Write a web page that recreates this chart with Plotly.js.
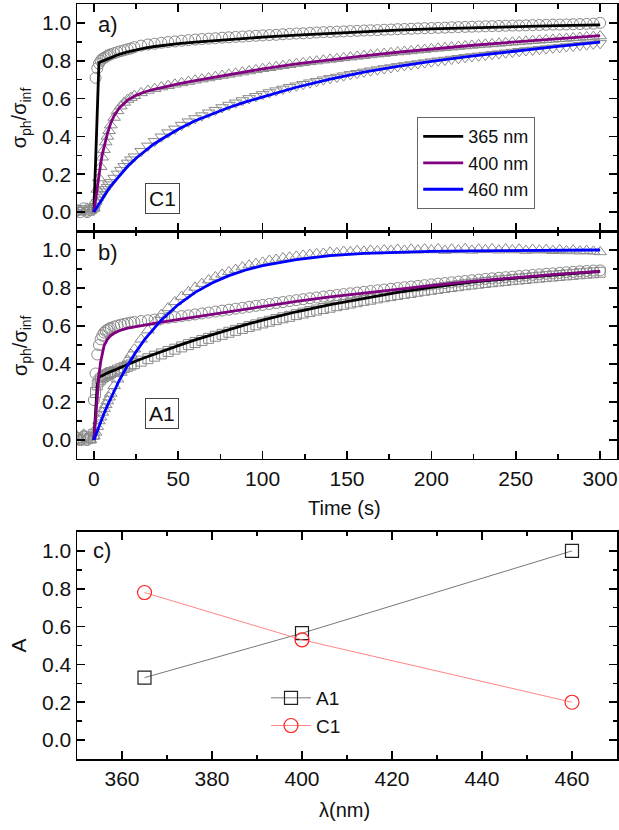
<!DOCTYPE html>
<html>
<head>
<meta charset="utf-8">
<script src="https://cdn.plot.ly/plotly-3.0.1.min.js"></script>
<style>html,body{margin:0;padding:0;background:#fff;}#chart{width:619px;height:830px;}</style>
</head>
<body>
<div id="chart"></div>
<script>
// ---- Data ----
const tMarker = [-10,-8,-6,-4,-2,
  0,1,2,3,4,5,6,7,8,9,10,
  12,14,16,18,20,22,
  24,28,32,36,40,44,48,52,56,60,
  64,68,72,76,80,84,88,92,96,100,
  104,108,112,116,120,124,128,132,136,140,
  144,148,152,156,160,164,168,172,176,180,
  184,188,192,196,200,204,208,212,216,220,
  224,228,232,236,240,244,248,252,256,260,
  264,268,272,276,280,284,288,292,296,300];

// Panel a) sample C1, measured points
const c1_365 = [0.01,0.00,0.02,0.00,0.01,
  0.02,0.71,0.76,0.785,0.80,0.81,0.815,0.82,0.826,0.83,0.834,
  0.84,0.846,0.851,0.856,0.861,0.865,
  0.872,0.880,0.886,0.890,0.895,0.899,0.902,0.906,0.909,0.912,
  0.915,0.917,0.919,0.922,0.924,0.926,0.928,0.930,0.932,0.934,
  0.936,0.937,0.940,0.942,0.944,0.945,0.947,0.949,0.951,0.952,
  0.954,0.955,0.957,0.958,0.960,0.961,0.962,0.964,0.965,0.967,
  0.968,0.969,0.971,0.972,0.973,0.974,0.975,0.977,0.978,0.979,
  0.980,0.981,0.982,0.983,0.984,0.985,0.986,0.986,0.987,0.988,
  0.989,0.990,0.991,0.991,0.992,0.993,0.994,0.995,0.996,1.000];
const c1_400 = [0.00,0.01,0.00,0.02,0.01,
  0.02,0.06,0.12,0.18,0.24,0.29,0.33,0.37,0.40,0.43,0.46,
  0.50,0.535,0.56,0.58,0.595,0.605,
  0.615,0.630,0.643,0.652,0.661,0.668,0.676,0.683,0.690,0.697,
  0.703,0.709,0.716,0.722,0.728,0.734,0.740,0.746,0.752,0.758,
  0.763,0.769,0.774,0.779,0.785,0.789,0.794,0.798,0.803,0.807,
  0.811,0.815,0.819,0.823,0.827,0.831,0.835,0.838,0.842,0.846,
  0.849,0.852,0.856,0.859,0.863,0.866,0.869,0.872,0.875,0.878,
  0.881,0.884,0.887,0.889,0.892,0.895,0.898,0.900,0.903,0.906,
  0.908,0.911,0.913,0.916,0.918,0.921,0.923,0.926,0.928,0.931];
const c1_460 = [0.00,0.02,0.01,0.00,0.01,
  0.01,0.03,0.05,0.065,0.08,0.095,0.108,0.12,0.132,0.145,0.157,
  0.18,0.202,0.222,0.242,0.26,0.277,
  0.293,0.322,0.350,0.374,0.398,0.420,0.440,0.460,0.478,0.495,
  0.510,0.525,0.539,0.553,0.566,0.578,0.590,0.601,0.612,0.622,
  0.632,0.642,0.651,0.660,0.668,0.676,0.684,0.692,0.700,0.707,
  0.714,0.721,0.728,0.734,0.741,0.747,0.753,0.759,0.764,0.770,
  0.775,0.780,0.785,0.790,0.795,0.800,0.804,0.809,0.813,0.818,
  0.822,0.826,0.830,0.834,0.838,0.842,0.846,0.850,0.854,0.857,
  0.861,0.864,0.868,0.871,0.875,0.878,0.882,0.885,0.889,0.892];

// Panel b) sample A1, measured points
const a1_365 = [0.00,0.01,0.00,0.02,0.01,
  0.03,0.25,0.29,0.31,0.32,0.33,0.335,0.34,0.345,0.35,0.355,
  0.36,0.368,0.375,0.382,0.388,0.395,
  0.402,0.415,0.428,0.441,0.453,0.466,0.478,0.490,0.502,0.513,
  0.524,0.535,0.546,0.556,0.567,0.577,0.587,0.597,0.606,0.616,
  0.625,0.634,0.643,0.651,0.660,0.668,0.676,0.684,0.692,0.699,
  0.707,0.714,0.721,0.728,0.735,0.741,0.748,0.754,0.760,0.766,
  0.772,0.777,0.783,0.788,0.793,0.798,0.803,0.808,0.812,0.817,
  0.821,0.825,0.829,0.833,0.837,0.840,0.844,0.847,0.850,0.854,
  0.857,0.860,0.863,0.866,0.869,0.872,0.875,0.878,0.880,0.883];
const a1_400 = [0.01,0.00,0.02,0.00,0.01,
  0.21,0.35,0.45,0.50,0.53,0.55,0.565,0.574,0.58,0.586,0.59,
  0.597,0.602,0.607,0.611,0.615,0.618,
  0.621,0.626,0.630,0.634,0.638,0.643,0.647,0.652,0.656,0.661,
  0.666,0.671,0.676,0.681,0.686,0.691,0.696,0.701,0.706,0.711,
  0.716,0.721,0.726,0.731,0.736,0.741,0.746,0.750,0.755,0.759,
  0.763,0.768,0.772,0.776,0.780,0.784,0.788,0.792,0.796,0.800,
  0.804,0.808,0.811,0.815,0.819,0.823,0.826,0.830,0.834,0.837,
  0.841,0.844,0.848,0.851,0.854,0.857,0.860,0.863,0.866,0.869,
  0.872,0.875,0.877,0.880,0.883,0.885,0.888,0.890,0.892,0.893];
const a1_460 = [0.02,0.00,0.03,0.01,0.00,
  0.02,0.04,0.07,0.10,0.12,0.145,0.165,0.185,0.205,0.225,0.245,
  0.285,0.32,0.355,0.39,0.42,0.45,
  0.478,0.530,0.578,0.620,0.660,0.695,0.727,0.755,0.780,0.803,
  0.823,0.842,0.858,0.872,0.885,0.897,0.910,0.920,0.928,0.935,
  0.945,0.950,0.958,0.962,0.967,0.972,0.976,0.980,0.982,0.988,
  0.985,0.992,0.990,0.996,0.993,0.998,0.995,1.000,0.997,1.003,
  0.998,1.004,0.999,1.005,1.000,1.006,0.997,1.004,1.000,1.007,
  0.998,1.004,1.001,1.006,0.999,1.005,1.000,1.004,0.997,1.003,
  0.999,1.002,0.996,1.001,0.995,0.999,0.994,0.997,0.993,0.990];

// Fit curves
const tFit = [0,1,2,3,4,5,6,8,10,12,15,20,25,30,35,40,50,60,70,80,90,100,120,140,160,180,200,225,250,275,300];
const fitC1_365 = [0,0.26,0.53,0.79,0.794,0.798,0.802,0.81,0.818,0.825,0.834,0.847,0.858,0.867,0.874,0.88,0.89,0.899,0.906,0.913,0.919,0.925,0.936,0.946,0.954,0.962,0.968,0.975,0.981,0.986,0.99];
const fitC1_400 = [0,0.07,0.14,0.2,0.255,0.305,0.345,0.415,0.47,0.51,0.55,0.592,0.617,0.635,0.648,0.659,0.678,0.695,0.711,0.727,0.743,0.757,0.784,0.806,0.826,0.845,0.862,0.882,0.9,0.917,0.933];
const fitC1_460 = [0,0.015,0.03,0.045,0.06,0.074,0.088,0.113,0.138,0.16,0.192,0.242,0.285,0.322,0.356,0.385,0.438,0.483,0.52,0.553,0.583,0.61,0.66,0.703,0.74,0.77,0.797,0.826,0.852,0.876,0.898];
const fitA1_365 = [0,0.15,0.29,0.33,0.335,0.34,0.344,0.352,0.36,0.368,0.38,0.398,0.416,0.433,0.45,0.466,0.497,0.527,0.555,0.582,0.607,0.631,0.675,0.713,0.747,0.777,0.803,0.832,0.852,0.871,0.888];
const fitA1_400 = [0,0.12,0.24,0.34,0.41,0.46,0.495,0.53,0.55,0.562,0.575,0.589,0.598,0.606,0.613,0.62,0.634,0.647,0.661,0.675,0.69,0.704,0.73,0.753,0.774,0.794,0.813,0.836,0.856,0.873,0.888];
const fitA1_460 = [0,0.025,0.049,0.072,0.095,0.118,0.139,0.181,0.221,0.259,0.313,0.393,0.465,0.528,0.583,0.632,0.713,0.777,0.826,0.865,0.895,0.918,0.95,0.97,0.982,0.989,0.993,0.996,0.998,0.999,1.0];

// Panel c)
const wavelength = [365, 400, 460];
const ampA1 = [0.33, 0.565, 1.0];
const ampC1 = [0.78, 0.53, 0.20];

const legendNames = ['365 nm', '400 nm', '460 nm'];
const fitColors = ['#000000', '#800080', '#0000ff'];

// ---- Build traces ----
const FONT = 'Arial, "Liberation Sans", sans-serif';
const grey = '#8a8a8a';
function pts(y, sym, xa, ya, size) {
  return {x: tMarker, y: y, type: 'scatter', mode: 'markers', xaxis: xa, yaxis: ya, showlegend: false,
    marker: {symbol: sym, size: size, color: grey, line: {color: grey, width: 1}}, hoverinfo: 'skip'};
}
function fit(y, i, xa, ya, show) {
  return {x: tFit, y: y, type: 'scatter', mode: 'lines', xaxis: xa, yaxis: ya, name: legendNames[i],
    showlegend: show, legend: 'legend', line: {color: fitColors[i], width: 2.8}};
}
const traces = [
  pts(c1_365, 'circle-open', 'x', 'y', 11),
  pts(c1_400, 'triangle-up-open', 'x', 'y', 11),
  pts(c1_460, 'triangle-down-open', 'x', 'y', 11),
  pts(a1_365, 'square-open', 'x2', 'y2', 10),
  pts(a1_400, 'circle-open', 'x2', 'y2', 11),
  pts(a1_460, 'triangle-up-open', 'x2', 'y2', 11),
  fit(fitC1_365, 0, 'x', 'y', true),
  fit(fitC1_400, 1, 'x', 'y', true),
  fit(fitC1_460, 2, 'x', 'y', true),
  fit(fitA1_365, 0, 'x2', 'y2', false),
  fit(fitA1_400, 1, 'x2', 'y2', false),
  fit(fitA1_460, 2, 'x2', 'y2', false),
  {x: wavelength, y: ampA1, type: 'scatter', mode: 'lines+markers', name: 'A1', xaxis: 'x3', yaxis: 'y3',
    legend: 'legend2', line: {color: '#555555', width: 0.8},
    marker: {symbol: 'square-open', size: 13, color: '#222222', line: {width: 1.2}}},
  {x: wavelength, y: ampC1, type: 'scatter', mode: 'lines+markers', name: 'C1', xaxis: 'x3', yaxis: 'y3',
    legend: 'legend2', line: {color: '#ff6666', width: 0.8},
    marker: {symbol: 'circle-open', size: 14, color: '#ff2020', line: {width: 1.2}}}
];

const TICK = 21;
function axisBase(extra) {
  return Object.assign({
    showline: true, linecolor: '#000', linewidth: 1.5, mirror: 'allticks',
    ticks: 'inside', ticklen: 8, tickwidth: 1.6, tickcolor: '#000',
    showgrid: false, zeroline: false,
    tickfont: {family: FONT, size: TICK, color: '#111'},
  }, extra);
}
function minor(d) { return {dtick: d, ticks: 'inside', ticklen: 4.5, tickwidth: 1.4, tickcolor: '#000'}; }
const yTitle = 'σ<sub>ph</sub>/σ<sub>inf</sub>';

function label(text, x, y, size, angle, extra) {
  return Object.assign({text: text, xref: 'paper', yref: 'paper', x: x, y: y, showarrow: false,
    xanchor: 'center', yanchor: 'middle', textangle: angle || 0, font: {family: FONT, size: size, color: '#111'}}, extra || {});
}

const layout = {
  width: 619, height: 830,
  margin: {l: 77, r: 2, t: 4, b: 71},
  paper_bgcolor: '#fff', plot_bgcolor: '#fff',
  xaxis: axisBase({anchor: 'y', domain: [0, 1], range: [-10, 310], tick0: 0, dtick: 50, showticklabels: false, minor: minor(25)}),
  yaxis: axisBase({anchor: 'x', domain: [0.6993, 1], range: [-0.1, 1.1], tick0: 0, dtick: 0.2, tickformat: '.1f', minor: minor(0.1)}),
  xaxis2: axisBase({anchor: 'y2', domain: [0, 1], range: [-10, 310], tick0: 0, dtick: 50, minor: minor(25)}),
  yaxis2: axisBase({anchor: 'x2', domain: [0.3974, 0.6993], range: [-0.1, 1.1], tick0: 0, dtick: 0.2, tickformat: '.1f', minor: minor(0.1)}),
  xaxis3: axisBase({anchor: 'y3', domain: [0, 1], range: [350, 470], tick0: 360, dtick: 20, minor: minor(10)}),
  yaxis3: axisBase({anchor: 'x3', domain: [0, 0.3007], range: [-0.1, 1.1], tick0: 0, dtick: 0.2, tickformat: '.1f', minor: minor(0.1)}),
  legend: {x: 0.63, y: 0.85, xanchor: 'left', yanchor: 'top', bgcolor: '#fff', bordercolor: '#666', borderwidth: 1,
    font: {family: FONT, size: 18, color: '#111'}, itemwidth: 40, tracegroupgap: 0},
  legend2: {x: 0.35, y: 0.106, xanchor: 'left', yanchor: 'top', bgcolor: 'rgba(0,0,0,0)', borderwidth: 0,
    font: {family: FONT, size: 19, color: '#111'}, itemwidth: 40, tracegroupgap: 0},
  annotations: [
    label(yTitle, -0.104, 0.8497, 20, -90),
    label(yTitle, -0.104, 0.548, 20, -90),
    label('Time (s)', 0.496, 0.3325, 20, 0),
    label('A', -0.108, 0.150, 21, -90),
    label('λ(nm)', 0.496, -0.0675, 20, 0),
    label('a)', 0.036, 0.9735, 22, 0, {xanchor: 'left'}),
    label('b)', 0.036, 0.6715, 22, 0, {xanchor: 'left'}),
    label('c)', 0.026, 0.2755, 22, 0, {xanchor: 'left'}),
    label('C1', 0.159, 0.743, 21, 0, {bordercolor: '#444', borderwidth: 1, borderpad: 3, bgcolor: '#fff'}),
    label('A1', 0.157, 0.457, 21, 0, {bordercolor: '#444', borderwidth: 1, borderpad: 3, bgcolor: '#fff'})
  ]
};

Plotly.newPlot('chart', traces, layout, {displayModeBar: false, staticPlot: true});
</script>
</body>
</html>
